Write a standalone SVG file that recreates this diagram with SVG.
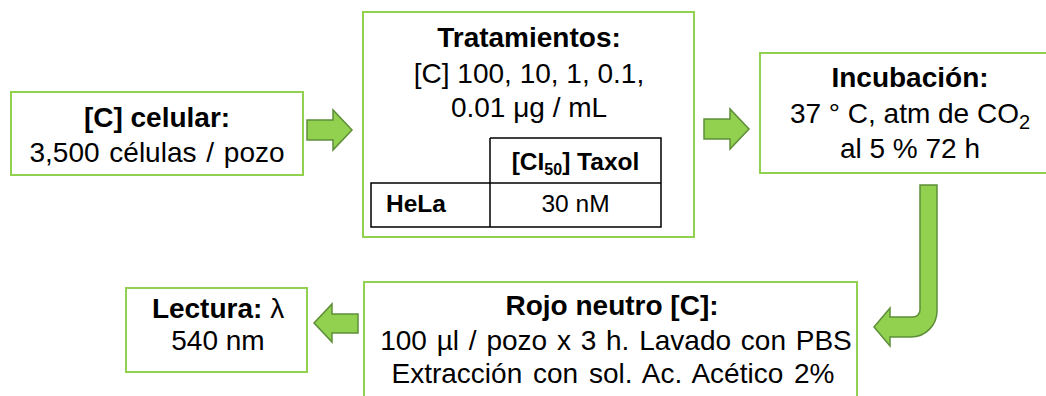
<svg xmlns="http://www.w3.org/2000/svg" width="1046" height="396" viewBox="0 0 1046 396">
  <style>
    .box { fill: #ffffff; stroke: #92D050; stroke-width: 2; }
    .arrow { fill: #92D050; stroke: #5E8E38; stroke-width: 1.5; stroke-linejoin: miter; }
    .t { font-family: "Liberation Sans", Arial, sans-serif; font-size: 28px; fill: #000000; text-anchor: middle; }
    .b { font-weight: bold; }
    .tb { font-family: "Liberation Sans", Arial, sans-serif; font-size: 24.5px; fill: #000000; }
    .grid { fill: none; stroke: #000000; stroke-width: 1.5; }
  </style>
  <rect width="1046" height="396" fill="#ffffff"/>

  <g id="connectors">
    <polygon class="arrow" points="307,120 333,120 333,110 352,130 333,150 333,140 307,140"/>
    <polygon class="arrow" points="704,119 730,119 730,109 749,129 730,149 730,139 704,139"/>
    <path class="arrow" d="M920,185 L937,185 L937,311 A26,26 0 0 1 911,337 L890,337 L890,346 L874,327 L890,308 L890,317 L913,317 A7,7 0 0 0 920,310 Z"/>
    <polygon class="arrow" points="358,314 332,314 332,304 314,323 332,342 332,333 358,333"/>
  </g>

  <g id="node-celular">
    <rect class="box" x="11" y="92" width="292" height="83"/>
    <text class="t b" x="157" y="127">[C] celular:</text>
    <text class="t" x="157" y="162" word-spacing="2">3,500 células / pozo</text>
  </g>

  <g id="node-tratamientos">
    <rect class="box" x="363" y="12" width="331" height="225"/>
    <text class="t b" x="529" y="47">Tratamientos:</text>
    <text class="t" x="529" y="83">[C] 100, 10, 1, 0.1,</text>
    <text class="t" x="529" y="117">0.01 μg / mL</text>
    <g id="table">
      <path class="grid" d="M490,138 H661 V227 H371 V183 H661 M490,138 V227"/>
      <text class="tb b" x="575.5" y="170" text-anchor="middle">[CI<tspan font-size="16" dy="5">50</tspan><tspan dy="-5">] Taxol</tspan></text>
      <text class="tb b" x="386" y="212">HeLa</text>
      <text class="tb" x="575.5" y="212" text-anchor="middle">30 nM</text>
    </g>
  </g>

  <g id="node-incubacion">
    <rect class="box" x="760" y="53" width="300" height="120"/>
    <text class="t b" x="910" y="87">Incubación:</text>
    <text class="t" x="910" y="123">37 ° C, atm de CO<tspan font-size="20" dy="6">2</tspan></text>
    <text class="t" x="910" y="158">al 5 % 72 h</text>
  </g>

  <g id="node-rojo">
    <rect class="box" x="364" y="282" width="493" height="130"/>
    <text class="t b" x="612" y="315">Rojo neutro [C]:</text>
    <text class="t" x="616" y="350" word-spacing="2">100 µl / pozo x 3 h. Lavado con PBS</text>
    <text class="t" x="613" y="383" word-spacing="3">Extracción con sol. Ac. Acético 2%</text>
  </g>

  <g id="node-lectura">
    <rect class="box" x="126" y="288" width="181" height="84"/>
    <text class="t b" x="218" y="318">Lectura: <tspan font-weight="normal">λ</tspan></text>
    <text class="t" x="218" y="350">540 nm</text>
  </g>
</svg>
